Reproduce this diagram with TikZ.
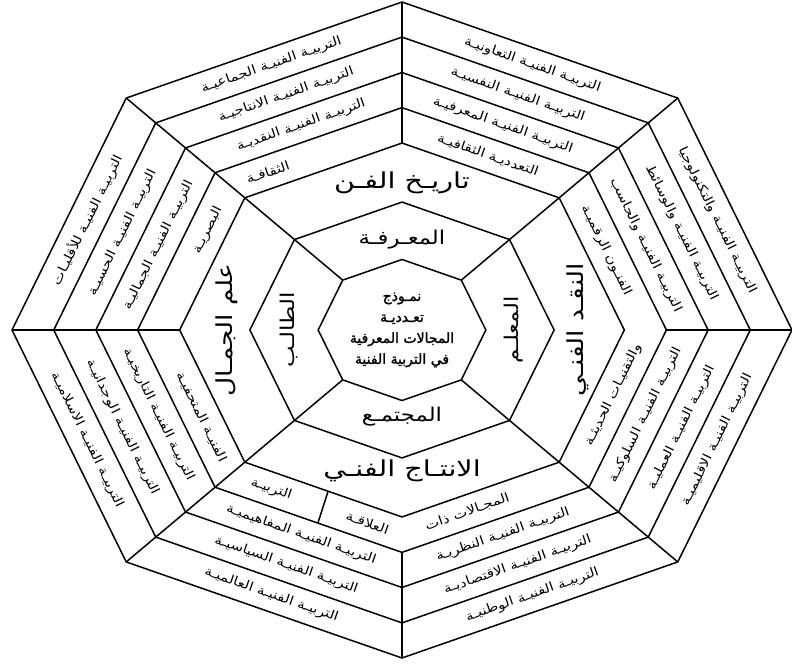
\documentclass[tikz,border=0pt]{standalone}
\usepackage{fontspec}
\newfontfamily\arabicfont[Script=Arabic]{DejaVu Sans}
\newfontfamily\arabicbold[Script=Arabic,FakeBold=1.6]{DejaVu Sans}
\TeXXeTstate=1
\usetikzlibrary{calc}
\newcommand{\artx}[1]{{\arabicfont #1}}
\newcommand{\artb}[1]{{\arabicbold #1}}
% strip text: name, radius, sector index k (from vertex k to k+1, clockwise from N), pos, text
\newcommand{\striptext}[5]{%
  \path ({#2*cos(90-45*#3)},{#2*sin(90-45*#3)}) -- ({#2*cos(45-45*#3)},{#2*sin(45-45*#3)})
    node[striplabel, pos=#4] (#1) {\scalebox{1.2}[1]{\artx{#5}}};}
\begin{document}
\begin{tikzpicture}[x=390pt,y=328pt,line width=1.5pt,line join=miter,
  striplabel/.style={font=\fontsize{12.5}{14}\selectfont, inner sep=0pt, sloped},
  ringlabel/.style={font=\fontsize{22}{24}\selectfont, inner sep=0pt},
  innerlabel/.style={font=\fontsize{19}{22}\selectfont, inner sep=0pt},
  centerlabel/.style={font=\fontsize{14}{21}\selectfont, inner sep=0pt, align=center}]
\useasboundingbox (-402pt,-334pt) rectangle (390pt,330pt);
% octagon vertices
\foreach \n/\r in {a/1.0,b/0.893,c/0.785,d/0.678,e/0.57,f/0.39,g/0.215}{
  \foreach \k in {0,...,7}{
    \coordinate (\n\k) at ({\r*cos(90-45*\k)},{\r*sin(90-45*\k)});
  }
}
% octagons
\foreach \n in {a,b,c,d,e,f,g}{
  \draw (\n0)--(\n1)--(\n2)--(\n3)--(\n4)--(\n5)--(\n6)--(\n7)--cycle;
}
% diagonal radials
\foreach \k in {1,3,5,7}{ \draw (g\k)--(a\k); }
% axis radials in the outer band
\draw (a0)--(e0);
\draw (a6)--(e6);
\draw (a2)--(d2);
\draw (a4)--(d4);
% divider in the lower-left inner strip
\coordinate (dv1) at ($(e4)!0.47!(e5)$);
\coordinate (dv2) at ($(d4)!0.45!(d5)$);
\draw (dv1)--(dv2);

% ---- strip texts ----
% NW-N (k=7)
\striptext{s71}{0.9465}{7}{0.5}{\beginR التربيـة الفنيـة الجماعيـة\endR}
\striptext{s72}{0.8395}{7}{0.5}{\beginR التربيـة الفنيـة الانتاجيـة\endR}
\striptext{s73}{0.7315}{7}{0.5}{\beginR التربيـة الفنيـة النقديـة\endR}
\striptext{s74}{0.624}{7}{0.22}{\beginR الثقافـة\endR}
% N-NE (k=0)
\striptext{s01}{0.9465}{0}{0.5}{\beginR التربيـة الفنيـة التعاونيـة\endR}
\striptext{s02}{0.8395}{0}{0.5}{\beginR التربيـة الفنيـة النفسيـة\endR}
\striptext{s03}{0.7315}{0}{0.5}{\beginR التربيـة الفنيـة المعرفيـة\endR}
\striptext{s04}{0.624}{0}{0.5}{\beginR التعدديـة الثقافيـة\endR}
% NE-E (k=1)
\striptext{s11}{0.9465}{1}{0.5}{\beginR التربيـة الفنيـة والتكنولوجيا\endR}
\striptext{s12}{0.8395}{1}{0.5}{\beginR التربيـة الفنيـة والوسائط\endR}
\striptext{s13}{0.7315}{1}{0.5}{\beginR التربيـة الفنيـة والحاسب\endR}
\striptext{s14}{0.624}{1}{0.45}{\beginR الفنـون الرقميـة\endR}
% E-SE (k=2)
\striptext{s21}{0.9465}{2}{0.5}{\beginR التربيـة الفنيـة الاقليميـة\endR}
\striptext{s22}{0.8395}{2}{0.5}{\beginR التربيـة الفنيـة العمليـة\endR}
\striptext{s23}{0.7315}{2}{0.5}{\beginR التربيـة الفنيـة السلوكيـة\endR}
\striptext{s24}{0.624}{2}{0.45}{\beginR والتقنيـات الحديثـة\endR}
% SE-S (k=3)
\striptext{s31}{0.9465}{3}{0.5}{\beginR التربيـة الفنيـة الوطنيـة\endR}
\striptext{s32}{0.8395}{3}{0.5}{\beginR التربيـة الفنيـة الاقتصاديـة\endR}
\striptext{s33}{0.7315}{3}{0.5}{\beginR التربيـة الفنيـة النظريـة\endR}
\striptext{s34}{0.624}{3}{0.62}{\beginR المجـالات ذات\endR}
% S-SW (k=4)
\striptext{s41}{0.9465}{4}{0.5}{\beginR التربيـة الفنيـة العالميـة\endR}
\striptext{s42}{0.8395}{4}{0.5}{\beginR التربيـة الفنيـة السياسيـة\endR}
\striptext{s43}{0.7315}{4}{0.5}{\beginR التربيـة الفنيـة المفاهيميـة\endR}
\striptext{s44}{0.624}{4}{0.2}{\beginR العلاقـة\endR}
\striptext{s45}{0.624}{4}{0.76}{\beginR التربيـة\endR}
% SW-W (k=5)
\striptext{s51}{0.9465}{5}{0.5}{\beginR التربيـة الفنيـة الاسلاميـة\endR}
\striptext{s52}{0.8395}{5}{0.5}{\beginR التربيـة الفنيـة الوجدانيـة\endR}
\striptext{s53}{0.7315}{5}{0.5}{\beginR التربيـة الفنيـة التاريخيـة\endR}
\striptext{s54}{0.624}{5}{0.4}{\beginR الفنيـة المتحفيـة\endR}
% W-NW (k=6)
\striptext{s61}{0.9465}{6}{0.5}{\beginR التربيـة الفنيـة للأقليـات\endR}
\striptext{s62}{0.8395}{6}{0.5}{\beginR التربيـة الفنيـة الحسيـة\endR}
\striptext{s63}{0.7315}{6}{0.5}{\beginR التربيـة الفنيـة الجماليـة\endR}
\striptext{s64}{0.624}{6}{0.69}{\beginR البصريـة\endR}

% ---- ring labels ----
\node[ringlabel] (tarikh) at (0,0.45) {\scalebox{1.3}[1]{\artx{\beginR تاريـخ الفـن\endR}}};
\node[ringlabel] (intaj) at (0,-0.43) {\scalebox{1.3}[1]{\artx{\beginR الانتـاج الفنـي\endR}}};
\node[ringlabel, rotate=90] (naqd) at (0.45,0) {\scalebox{1.2}[1]{\artx{\beginR النقـد الفنـي\endR}}};
\node[ringlabel, rotate=90] (jamal) at (-0.45,0) {\scalebox{1.2}[1]{\artx{\beginR علم الجمـال\endR}}};
\node[innerlabel] (maarifa) at (0,0.275) {\scalebox{1.2}[1]{\artx{\beginR المعـرفـة\endR}}};
\node[innerlabel] (mujtama) at (0,-0.265) {\scalebox{1.2}[1]{\artx{\beginR المجتمـع\endR}}};
\node[innerlabel, rotate=90] (muallim) at (0.285,0) {\scalebox{1.2}[1]{\artx{\beginR المعلـم\endR}}};
\node[innerlabel, rotate=90] (talib) at (-0.29,0) {\scalebox{1.2}[1]{\artx{\beginR الطالـب\endR}}};
\node[centerlabel] (center) at (0,0) {\artb{\beginR نمـوذج\endR}\\\artb{\beginR تعـدديـة\endR}\\\artb{\beginR المجالات المعرفية\endR}\\\artb{\beginR في التربية الفنية\endR}};
\end{tikzpicture}
\end{document}
